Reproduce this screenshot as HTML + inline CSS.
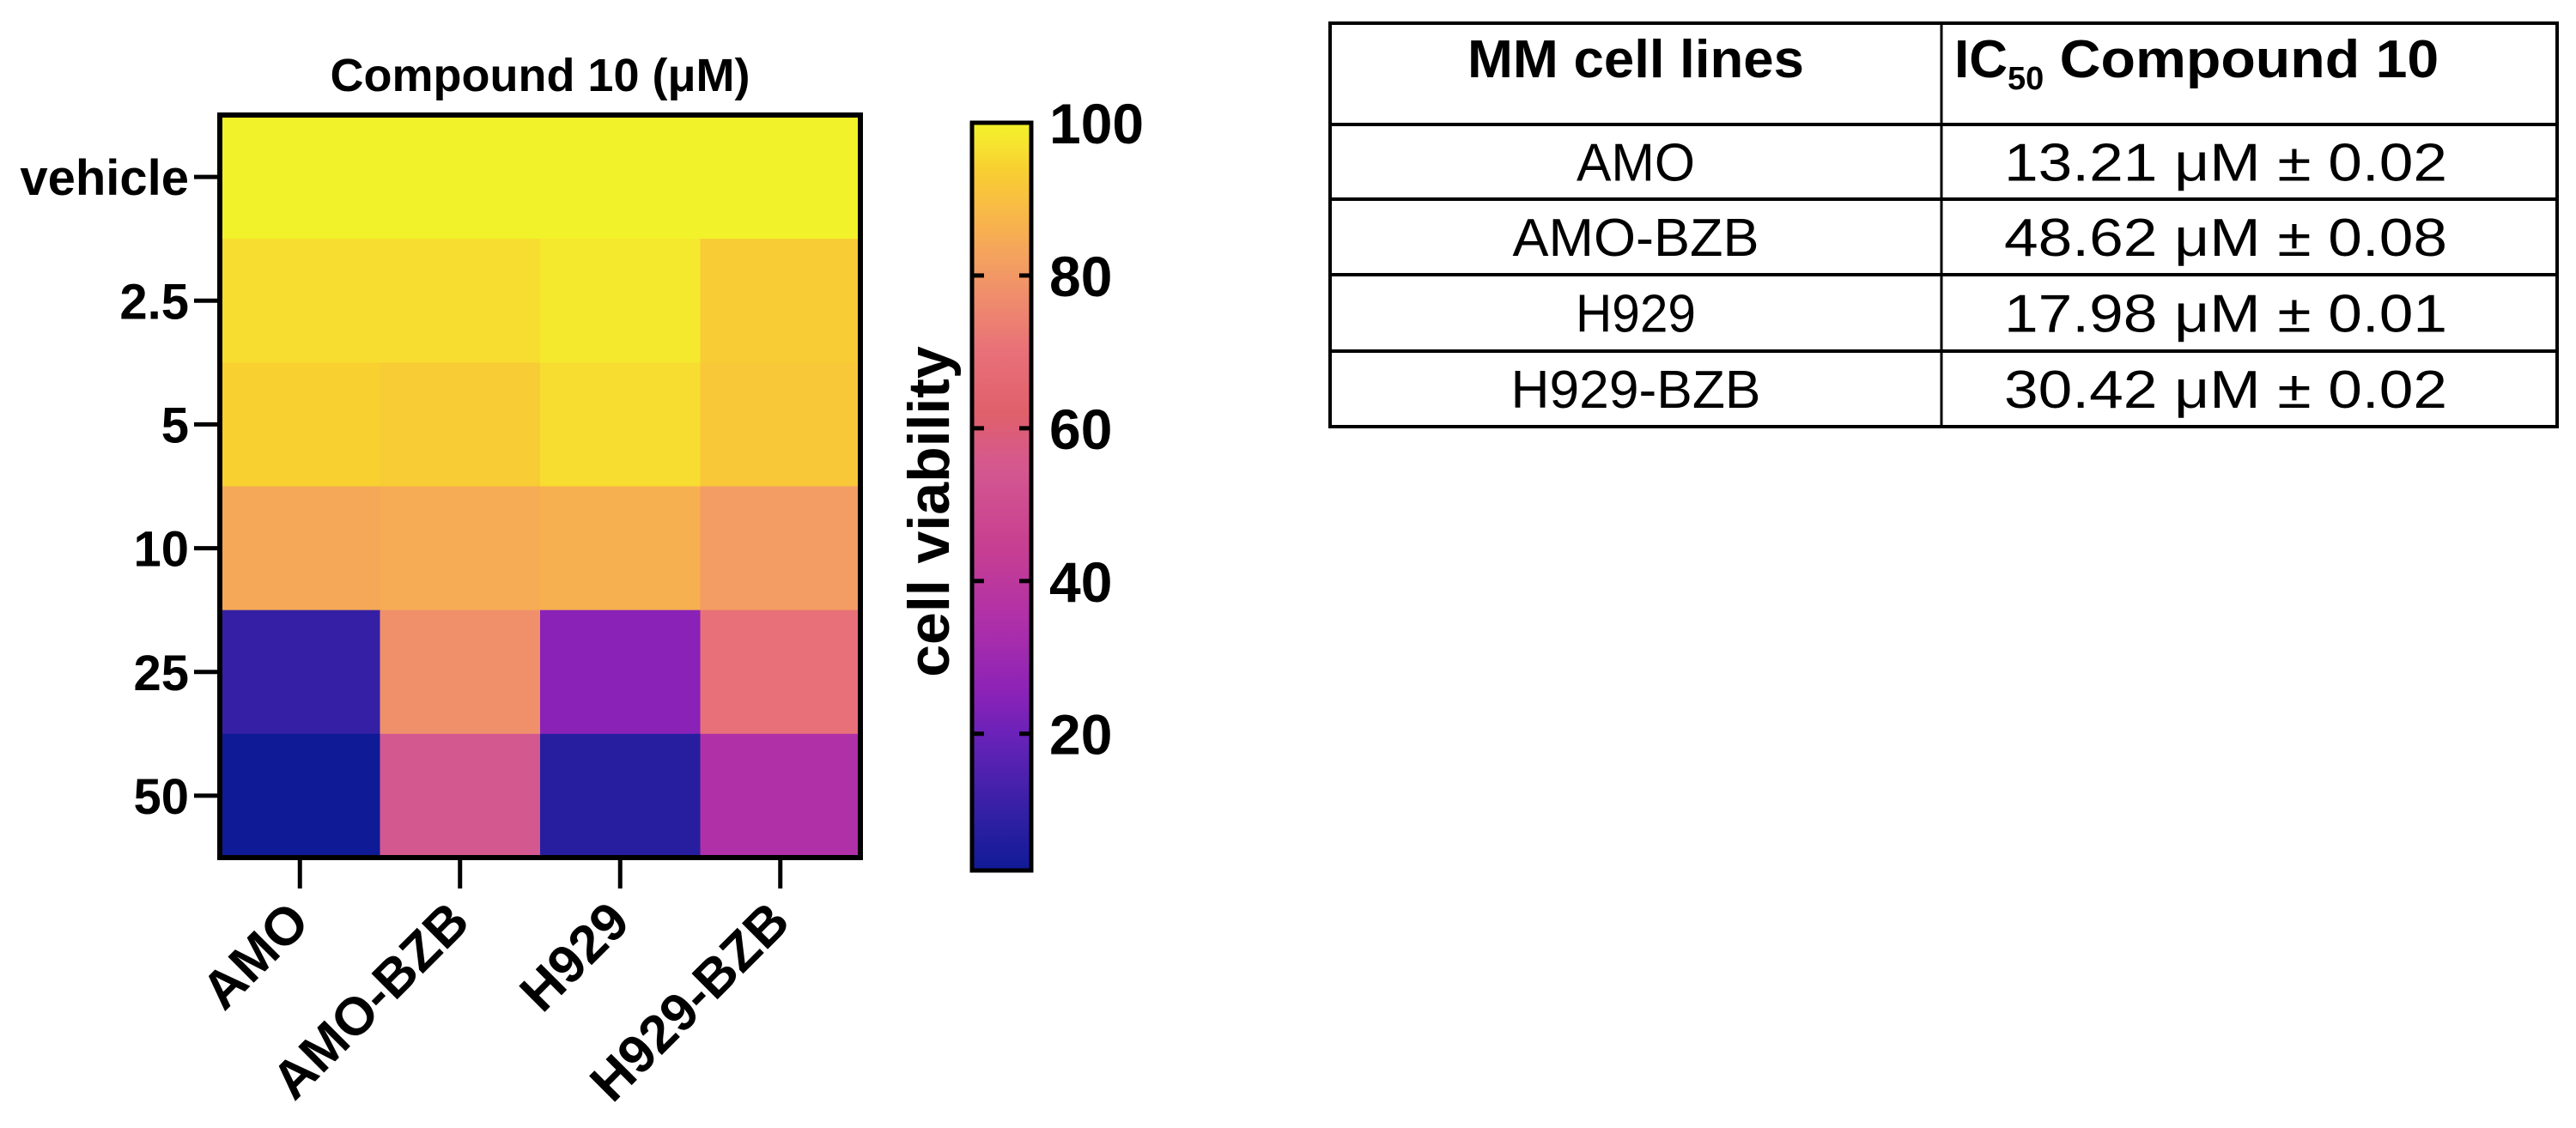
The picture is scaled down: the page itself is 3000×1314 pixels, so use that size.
<!DOCTYPE html>
<html><head><meta charset="utf-8"><style>
html,body{margin:0;padding:0;background:#fff;}
svg{display:block;}
text{font-family:"Liberation Sans",Arial,sans-serif;}
</style></head><body>
<svg id="fig" width="3000" height="1314" viewBox="0 0 3000 1314" xmlns="http://www.w3.org/2000/svg">
<g id="heat"></g>
<text x="629" y="106" font-size="54" font-weight="bold" text-anchor="middle">Compound 10 (μM)</text>
<g id="cbar"></g>
<text transform="translate(1105,596) rotate(-90)" font-size="68" font-weight="bold" text-anchor="middle">cell viability</text>
<g id="tbl"></g>
</svg>
<script>
const rowsLab = ["vehicle","2.5","5","10","25","50"];
const colsLab = ["AMO","AMO-BZB","H929","H929-BZB"];
const rowVehicle = [100,100,100,100];
const row2p5 = [96,96,98,93];
const row5 = [94,93,96,92];
const row10 = [84,85,86,81];
const row25 = [10,78,25,70];
const row50 = [2,55,7,35];
const cbTicks = [20,40,60,80,100];
const tblNames = ["AMO","AMO-BZB","H929","H929-BZB"];
const tblValues = ["13.21 μM ± 0.02","48.62 μM ± 0.08","17.98 μM ± 0.01","30.42 μM ± 0.02"];

const NS="http://www.w3.org/2000/svg";
function mk(tag,attrs,parent){const e=document.createElementNS(NS,tag);for(const k in attrs)e.setAttribute(k,attrs[k]);parent.appendChild(e);return e;}
const stops=[[2,[15,26,150]],[10,[53,32,165]],[20,[106,34,184]],[25,[138,34,184]],[35,[176,48,168]],[45,[200,64,144]],[55,[212,88,144]],[62,[224,96,106]],[70,[232,112,120]],[78,[240,144,106]],[82,[244,160,96]],[88,[248,184,72]],[94,[248,208,48]],[97,[246,228,48]],[100,[242,242,42]]];
function color(v){
  if(v<=stops[0][0])return `rgb(${stops[0][1]})`;
  for(let i=1;i<stops.length;i++){if(v<=stops[i][0]){const a=stops[i-1],b=stops[i],t=(v-a[0])/(b[0]-a[0]);
    return `rgb(${a[1].map((c,j)=>Math.round(c+(b[1][j]-c)*t)).join(',')})`;}}
  return `rgb(${stops[stops.length-1][1]})`;
}
const data=[rowVehicle,row2p5,row5,row10,row25,row50];
const X0=256,X1=1002,Y0=134,Y1=999;
const cw=(X1-X0)/colsLab.length, rh=(Y1-Y0)/rowsLab.length;
const xPos=i=>X0+i*cw, yPos=j=>Y0+j*rh;
const heat=document.getElementById('heat');
data.forEach((row,j)=>row.forEach((v,i)=>{
  const r=mk('rect',{x:xPos(i),y:yPos(j),width:cw+0.5,height:rh+0.5,fill:color(v)},heat);
  
  
}));
mk('rect',{x:X0,y:Y0,width:X1-X0,height:Y1-Y0,fill:'none',stroke:'#000','stroke-width':6},heat);
rowsLab.forEach((l,j)=>{
  const yc=yPos(j)+rh/2;
  mk('line',{x1:X0-30,x2:X0,y1:yc,y2:yc,stroke:'#000','stroke-width':5},heat);
  const t=mk('text',{x:X0-36,y:yc+21,'font-size':58,'font-weight':'bold','text-anchor':'end'},heat);
  t.textContent=l;
  
  
});
colsLab.forEach((l,i)=>{
  const xc=xPos(i)+cw/2;
  mk('line',{x1:xc,x2:xc,y1:Y1,y2:Y1+36,stroke:'#000','stroke-width':5},heat);
  const t=mk('text',{transform:`translate(${xc+14},${Y1+78}) rotate(-45)`,'font-size':62,'font-weight':'bold','text-anchor':'end'},heat);
  t.textContent=l;
  
  
});
const cb=document.getElementById('cbar');
const CX0=1132,CX1=1201,CY0=143,CY1=1014,VMIN=2.1,VMAX=100;
const cy=v=>CY1-(v-VMIN)/(VMAX-VMIN)*(CY1-CY0);
const defs=mk('defs',{},cb);
const lg=mk('linearGradient',{id:'cg',x1:0,y1:1,x2:0,y2:0},defs);
for(let v=2;v<=100;v+=2){mk('stop',{offset:((v-VMIN)/(VMAX-VMIN)).toFixed(4),'stop-color':color(v)},lg);}
mk('rect',{x:CX0,y:CY0,width:CX1-CX0,height:CY1-CY0,fill:'url(#cg)',stroke:'#000','stroke-width':5},cb);
cbTicks.forEach(v=>{
  const y=cy(v);
  mk('line',{x1:CX0,x2:CX0+14,y1:y,y2:y,stroke:'#000','stroke-width':5},cb);
  mk('line',{x1:CX1-14,x2:CX1,y1:y,y2:y,stroke:'#000','stroke-width':5},cb);
  const t=mk('text',{x:1222,y:y+24,'font-size':66,'font-weight':'bold'},cb);
  t.textContent=v;
  
  
});
const tb=document.getElementById('tbl');
const TX0=1549,TX1=2978,TXM=2261,rowY=[27,145,232,320,409,497];
mk('rect',{x:TX0,y:rowY[0],width:TX1-TX0,height:rowY[5]-rowY[0],fill:'none',stroke:'#000','stroke-width':4},tb);
mk('line',{x1:TXM,x2:TXM,y1:rowY[0],y2:rowY[5],stroke:'#000','stroke-width':3},tb);
for(let k=1;k<5;k++)mk('line',{x1:TX0,x2:TX1,y1:rowY[k],y2:rowY[k],stroke:'#000','stroke-width':4},tb);
let h1=mk('text',{x:1905,y:90,'font-size':62,'font-weight':'bold','text-anchor':'middle',textLength:392,lengthAdjust:'spacingAndGlyphs'},tb);
h1.textContent='MM cell lines';


let h2=mk('text',{x:2276,y:90,'font-size':62,'font-weight':'bold'},tb);
h2.innerHTML='IC<tspan font-size="38" dy="14">50</tspan><tspan dy="-14" textLength="460" lengthAdjust="spacingAndGlyphs"> Compound 10</tspan>';


const nameW=[138,287,140,291];
tblNames.forEach((n,k)=>{
  const base=rowY[k+1]+(rowY[k+2]-rowY[k+1])/2+22;
  const a=mk('text',{x:1905,y:base,'font-size':62,'text-anchor':'middle',textLength:nameW[k],lengthAdjust:'spacingAndGlyphs'},tb);
  a.textContent=n;
  
  
  const b=mk('text',{x:2334,y:base,'font-size':62,textLength:516,lengthAdjust:'spacingAndGlyphs'},tb);
  b.textContent=tblValues[k];
  
  
});
</script>
</body></html>
